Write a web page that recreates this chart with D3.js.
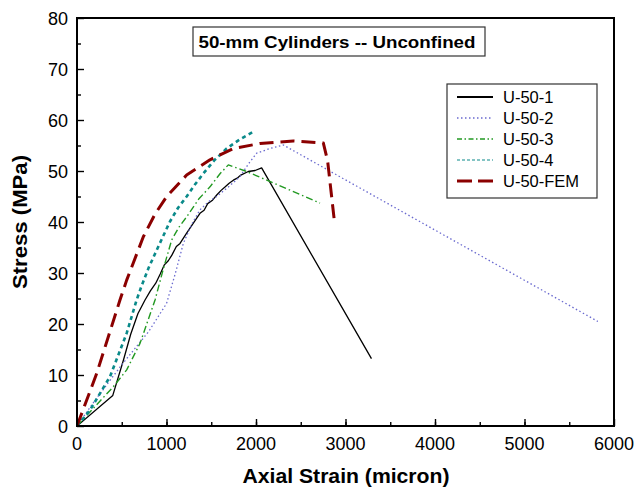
<!DOCTYPE html>
<html>
<head>
<meta charset="utf-8">
<script src="https://cdn.jsdelivr.net/npm/d3@7"></script>
<style>
  body { margin: 0; background: #fff; }
  text { font-family: "Liberation Sans", Arial, sans-serif; }
</style>
</head>
<body>
<div id="chart"></div>
<script>
// data (strain in micron, stress in MPa)
const u1Strain = [0, 400, 520, 600, 680, 760, 820, 880, 930, 976, 1020, 1060, 1110, 1151, 1225, 1300, 1374, 1420, 1460, 1510, 1561, 1610, 1650, 1700, 1747, 1790, 1830, 1914, 1990, 2063, 3290];
const u1Stress = [0, 6, 13, 18, 22, 24.7, 26.5, 28, 29.8, 31.6, 32.4, 33.5, 35.2, 35.8, 37.8, 39.8, 41.7, 42.3, 43.6, 44.2, 45.3, 46.2, 46.8, 47.6, 48.2, 48.6, 49.2, 49.9, 50.1, 50.6, 13.2];

const u2Strain = [0, 200, 500, 800, 1000, 1100, 1188, 1280, 1374, 1470, 1561, 1700, 1821, 1920, 2008, 2156, 2305, 5820];
const u2Stress = [0, 5, 12, 18.5, 24, 30, 35.8, 39.5, 42.4, 44, 45, 47, 48.9, 51.5, 53.5, 54.4, 55.1, 20.5];

const u3Strain = [0, 200, 406, 555, 704, 872, 960, 1058, 1140, 1225, 1360, 1486, 1600, 1691, 1896, 2715];
const u3Stress = [0, 3.8, 7.7, 11, 16.2, 24.7, 30.5, 36.5, 39, 41, 44.5, 46.9, 49.5, 51.2, 49.9, 43.7];

const u4Strain = [0, 145, 369, 555, 666, 722, 800, 909, 1039, 1130, 1225, 1320, 1411, 1540, 1672, 1820, 1970];
const u4Stress = [0, 3.1, 9.7, 18.2, 24.7, 27.5, 31, 35.2, 40.1, 42.8, 45, 47.4, 49.5, 52.2, 54.4, 56.2, 57.7];

const femStrain = [0, 220, 480, 555, 741, 870, 1002, 1225, 1486, 1747, 2045, 2417, 2752, 2800, 2880];
const femStress = [0, 10.3, 24.7, 28.6, 37.1, 41.5, 45, 49.2, 52.2, 54.4, 55.4, 55.9, 55.5, 52, 39.5];

const seriesNames = ["U-50-1", "U-50-2", "U-50-3", "U-50-4", "U-50-FEM"];
const xTicks = [0, 1000, 2000, 3000, 4000, 5000, 6000];
const yTicks = [0, 10, 20, 30, 40, 50, 60, 70, 80];

const width = 642, height = 488;
const margin = {top: 18, right: 28, bottom: 62, left: 77};

const svg = d3.select("#chart").append("svg")
    .attr("width", width)
    .attr("height", height);

const x = d3.scaleLinear().domain([0, 6000]).range([margin.left, width - margin.right]);
const y = d3.scaleLinear().domain([0, 80]).range([height - margin.bottom, margin.top]);

// styles per series
const styles = [
  {color: "#000000", w: 1.3, dash: null, lw: 2, ldash: null},
  {color: "#6a6acf", w: 1.3, dash: "1.5,2.5", lw: 1.3, ldash: "1.5,2.5"},
  {color: "#229922", w: 1.4, dash: "7,3,1.5,3", lw: 1.3, ldash: "5,2.5,1.5,2.5"},
  {color: "#0a8a8a", w: 2.6, dash: "4,3.5", lw: 1.2, ldash: "3,2"},
  {color: "#8b0000", w: 3, dash: "14,7", lw: 3, ldash: "15,6"}
];

const series = [
  d3.zip(u1Strain, u1Stress),
  d3.zip(u2Strain, u2Stress),
  d3.zip(u3Strain, u3Stress),
  d3.zip(u4Strain, u4Stress),
  d3.zip(femStrain, femStress)
];

const line = d3.line().x(d => x(d[0])).y(d => y(d[1]));

// clip region
svg.append("clipPath").attr("id", "clip")
  .append("rect")
  .attr("x", margin.left).attr("y", margin.top)
  .attr("width", width - margin.left - margin.right)
  .attr("height", height - margin.top - margin.bottom);

svg.append("g").attr("clip-path", "url(#clip)")
  .selectAll("path").data(series).enter()
  .append("path")
  .attr("d", line)
  .attr("fill", "none")
  .attr("stroke", (d, i) => styles[i].color)
  .attr("stroke-width", (d, i) => styles[i].w)
  .attr("stroke-dasharray", (d, i) => styles[i].dash)
  .attr("stroke-linejoin", "round");

// axes - ticks point inward
svg.append("g")
    .attr("transform", `translate(0,${y(0)})`)
    .call(d3.axisTop(x).tickValues(d3.range(500, 6000, 500)).tickSize(4).tickFormat(""));
svg.append("g")
    .attr("transform", `translate(0,${y(0)})`)
    .call(d3.axisTop(x).tickValues(xTicks).tickSize(7).tickFormat(""));
svg.append("g")
    .attr("transform", `translate(${x(0)},0)`)
    .call(d3.axisRight(y).tickValues(d3.range(5, 80, 10)).tickSize(4).tickFormat(""));
svg.append("g")
    .attr("transform", `translate(${x(0)},0)`)
    .call(d3.axisRight(y).tickValues(yTicks).tickSize(7).tickFormat(""));

svg.selectAll(".domain").remove();
svg.selectAll(".tick line").attr("stroke", "#000").attr("stroke-width", 1.4);

// tick labels
svg.append("g").selectAll("text").data(xTicks).enter()
  .append("text")
  .attr("x", d => x(d))
  .attr("y", y(0) + 24)
  .attr("text-anchor", "middle")
  .style("font-size", "18px")
  .text(d => d);

svg.append("g").selectAll("text").data(yTicks).enter()
  .append("text")
  .attr("x", x(0) - 9)
  .attr("y", d => y(d) + 7)
  .attr("text-anchor", "end")
  .style("font-size", "18px")
  .text(d => d);

// frame
svg.append("rect")
  .attr("x", margin.left).attr("y", margin.top)
  .attr("width", width - margin.left - margin.right)
  .attr("height", height - margin.top - margin.bottom)
  .attr("fill", "none")
  .attr("stroke", "#000")
  .attr("stroke-width", 2);

// axis labels
svg.append("text")
  .attr("x", 346)
  .attr("y", 483)
  .attr("text-anchor", "middle")
  .attr("textLength", 207)
  .attr("lengthAdjust", "spacingAndGlyphs")
  .style("font-size", "20px")
  .style("font-weight", "bold")
  .text("Axial Strain (micron)");

svg.append("text")
  .attr("transform", `translate(27, 222) rotate(-90)`)
  .attr("text-anchor", "middle")
  .attr("textLength", 134)
  .attr("lengthAdjust", "spacingAndGlyphs")
  .style("font-size", "20px")
  .style("font-weight", "bold")
  .text("Stress (MPa)");

// title box
svg.append("rect")
  .attr("x", 193).attr("y", 27).attr("width", 292).attr("height", 29)
  .attr("fill", "#fff").attr("stroke", "#333").attr("stroke-width", 1.2);
svg.append("text")
  .attr("x", 337).attr("y", 48)
  .attr("text-anchor", "middle")
  .attr("textLength", 277)
  .attr("lengthAdjust", "spacingAndGlyphs")
  .style("font-size", "17px")
  .style("font-weight", "bold")
  .text("50-mm Cylinders -- Unconfined");

// legend
let legend = svg.append("g");
legend.append("rect")
  .attr("x", 447).attr("y", 84).attr("width", 150).attr("height", 114)
  .attr("fill", "#fff").attr("stroke", "#333").attr("stroke-width", 1.2);

let items = legend.selectAll("g.item").data(seriesNames).enter()
  .append("g").attr("class", "item")
  .attr("transform", (d, i) => `translate(0, ${97 + i * 21})`);

items.append("line")
  .attr("x1", 457).attr("x2", 493)
  .attr("stroke", (d, i) => styles[i].color)
  .attr("stroke-width", (d, i) => styles[i].lw)
  .attr("stroke-dasharray", (d, i) => styles[i].ldash);

items.append("text")
  .attr("x", 503).attr("y", 6)
  .style("font-size", "16.5px")
  .text(d => d);
</script>
</body>
</html>
